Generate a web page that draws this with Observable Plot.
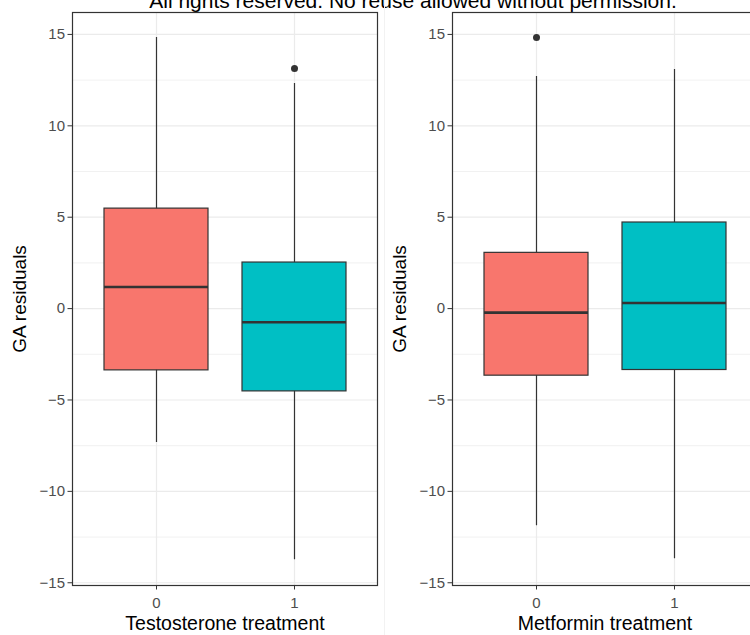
<!DOCTYPE html>
<html>
<head>
<meta charset="utf-8">
<script src="https://cdn.jsdelivr.net/npm/d3@7"></script>
<script src="https://cdn.jsdelivr.net/npm/@observablehq/plot@0.6"></script>
<style>
  html, body { margin: 0; padding: 0; background: #fff; }
  body { width: 750px; height: 635px; overflow: hidden; position: relative; font-family: "Liberation Sans", Arial, sans-serif; }
  #title { position: absolute; top: -10px; left: 413px; transform: translateX(-50%); white-space: nowrap; font-size: 21px; line-height: 21px; color: #000; }
  .panel { position: absolute; top: 0; width: 380px; height: 635px; }
  .panel svg { max-width: none !important; width: 380px; height: 635px; }
  #sep { position: absolute; left: 384px; top: 0; width: 1px; height: 635px; background: #f2f2f2; }
</style>
</head>
<body>
<div id="title">All rights reserved. No reuse allowed without permission.</div>
<div id="sep"></div>
<div id="left" class="panel" style="left:0px"></div>
<div id="right" class="panel" style="left:380px"></div>
<script>
// Categories and tick labels
const groups = ["0", "1"];
const groupColors = ["#F8766D", "#00BFC4"];
const yTicks = [-15, -10, -5, 0, 5, 10, 15];
const yMinorTicks = [-12.5, -7.5, -2.5, 2.5, 7.5, 12.5];
const yLabel = "GA residuals";

// Testosterone panel box statistics (per group "0", "1")
const testosteroneLabel = "Testosterone treatment";
const testosteroneLower = [-7.33, -13.74];
const testosteroneQ1 = [-3.38, -4.53];
const testosteroneMedian = [1.18, -0.75];
const testosteroneQ3 = [5.47, 2.52];
const testosteroneUpper = [14.83, 12.32];
const testosteroneOutlierGroups = ["1"];
const testosteroneOutlierValues = [13.14];

// Metformin panel box statistics
const metforminLabel = "Metformin treatment";
const metforminLower = [-11.88, -13.68];
const metforminQ1 = [-3.67, -3.36];
const metforminMedian = [-0.22, 0.31];
const metforminQ3 = [3.05, 4.71];
const metforminUpper = [12.70, 13.08];
const metforminOutlierGroups = ["0"];
const metforminOutlierValues = [14.83];

function panel(label, lower, q1, median, q3, upper, outG, outV) {
  const rows = groups.map((g, i) => ({group: g, lower: lower[i], q1: q1[i], median: median[i], q3: q3[i], upper: upper[i]}));
  const outliers = outG.map((g, i) => ({group: g, value: outV[i]}));
  return Plot.plot({
    width: 380,
    height: 635,
    marginLeft: 72,
    marginRight: 3,
    marginTop: 12,
    marginBottom: 50,
    style: {background: "transparent", fontFamily: "Liberation Sans, Arial, sans-serif"},
    x: {type: "band", domain: groups, paddingInner: 0.25, paddingOuter: 0.225},
    y: {domain: [-15.15, 16.2]},
    color: {domain: groups, range: groupColors},
    marks: [
      Plot.ruleY(yMinorTicks, {stroke: "#ebebeb", strokeWidth: 0.7}),
      Plot.ruleY(yTicks, {stroke: "#ebebeb", strokeWidth: 1.2}),
      Plot.ruleX(groups, {x: d => d, stroke: "#ebebeb", strokeWidth: 1.2}),
      Plot.ruleX(rows, {x: "group", y1: "lower", y2: "upper", stroke: "#333", strokeWidth: 1.2}),
      Plot.barY(rows, {x: "group", y1: "q1", y2: "q3", fill: "group", stroke: "#333", strokeWidth: 1.2}),
      Plot.tickY(rows, {x: "group", y: "median", stroke: "#333", strokeWidth: 2.6}),
      Plot.dot(outliers, {x: "group", y: "value", r: 3.5, fill: "#333", stroke: "none"}),
      Plot.frame({stroke: "#333", strokeWidth: 1.2}),
      Plot.axisY(yTicks, {tickSize: 4.5, tickPadding: 3, stroke: "#333", color: "#4d4d4d", fontSize: 15, label: null}),
      Plot.axisX({tickSize: 4.5, tickPadding: 7, stroke: "#333", color: "#4d4d4d", fontSize: 15, label: null}),
      Plot.text([yLabel], {frameAnchor: "left", dx: -53, rotate: -90, textAnchor: "middle", lineAnchor: "middle", fontSize: 19, fill: "#000"}),
      Plot.text([label], {frameAnchor: "bottom", dy: 44, lineAnchor: "bottom", fontSize: 19.5, fill: "#000"})
    ]
  });
}

document.getElementById("left").append(panel(testosteroneLabel, testosteroneLower, testosteroneQ1, testosteroneMedian, testosteroneQ3, testosteroneUpper, testosteroneOutlierGroups, testosteroneOutlierValues));
document.getElementById("right").append(panel(metforminLabel, metforminLower, metforminQ1, metforminMedian, metforminQ3, metforminUpper, metforminOutlierGroups, metforminOutlierValues));
</script>
</body>
</html>
